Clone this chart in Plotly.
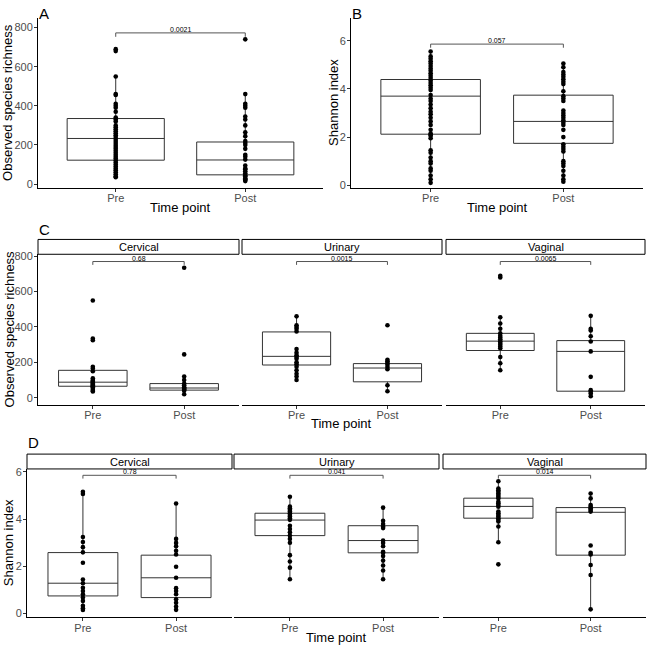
import plotly.graph_objects as go

# ---------------- data ----------------
groups = ["Pre", "Post"]

# Panel A: observed species richness (all sites)
A_pre = [690, 680, 550, 460, 455, 410, 400, 390, 370, 340, 330, 320, 300, 290, 280, 270, 260, 250,
         240, 230, 220, 210, 200, 190, 180, 170, 160, 150, 140, 130, 120, 110, 100, 90, 80, 70, 60,
         50, 40, 35]
A_post = [740, 460, 410, 400, 390, 345, 330, 300, 265, 245, 220, 210, 200, 180, 150, 140, 125, 95,
          80, 75, 65, 55, 45, 40, 30, 25, 20, 15]
A_box = dict(q1=[122, 47], median=[233, 123], q3=[335, 215], lo=[35, 15], hi=[550, 460])

# Panel B: Shannon index (all sites)
B_pre = [5.55, 5.35, 5.25, 5.15, 5.05, 4.95, 4.85, 4.75, 4.65, 4.55, 4.45, 4.35, 4.25, 4.15, 4.05,
         3.95, 3.75, 3.6, 3.5, 3.35, 3.2, 3.05, 2.95, 2.8, 2.65, 2.5, 2.3, 2.15, 2.1, 2.05, 1.95,
         1.45, 1.35, 1.15, 1.0, 0.9, 0.7, 0.6, 0.4, 0.25, 0.1]
B_post = [5.05, 4.9, 4.7, 4.6, 4.5, 4.4, 4.3, 4.2, 3.9, 3.7, 3.6, 3.5, 3.1, 3.0, 2.9, 2.8, 2.7, 2.6,
          2.5, 2.3, 2.0, 1.7, 1.6, 1.5, 1.4, 1.0, 0.9, 0.8, 0.6, 0.4, 0.25, 0.15]
B_box = dict(q1=[2.12, 1.74], median=[3.70, 2.65], q3=[4.39, 3.74], lo=[0.1, 0.15], hi=[5.55, 5.05])

sites = ["Cervical", "Urinary", "Vaginal"]

# Panel C: observed species richness by site
C_pre = {
    "Cervical": [550, 335, 325, 175, 165, 150, 110, 100, 95, 90, 85, 80, 75, 70, 65, 60, 50, 40, 35],
    "Urinary": [460, 410, 400, 390, 375, 275, 255, 240, 230, 220, 200, 190, 175, 155, 135, 120, 100],
    "Vaginal": [690, 680, 455, 420, 390, 365, 350, 340, 330, 320, 310, 300, 290, 280, 230, 195, 155],
}
C_post = {
    "Cervical": [735, 245, 120, 100, 80, 70, 60, 55, 50, 45, 40, 20],
    "Urinary": [410, 215, 206, 196, 187, 174, 161, 71, 37],
    "Vaginal": [463, 390, 380, 348, 318, 262, 118, 43, 34, 24, 9],
}
C_box = {
    "Cervical": dict(q1=[65, 43], median=[88, 55], q3=[155, 80], lo=[35, 20], hi=[175, 120]),
    "Urinary": dict(q1=[185, 90], median=[234, 168], q3=[372, 193], lo=[100, 37], hi=[460, 215]),
    "Vaginal": dict(q1=[267, 37], median=[320, 262], q3=[364, 323], lo=[155, 9], hi=[455, 463]),
}

# Panel D: Shannon index by site
D_pre = {
    "Cervical": [5.16, 5.07, 3.24, 3.03, 2.81, 2.59, 2.15, 1.44, 1.28, 1.09, 0.95, 0.81, 0.67, 0.53,
                 0.32, 0.22, 0.14],
    "Urinary": [4.95, 4.53, 4.46, 4.39, 4.32, 4.25, 4.18, 4.11, 4.04, 3.97, 3.72, 3.58, 3.44, 3.30,
                3.16, 3.0, 2.47, 2.2, 1.94, 1.45],
    "Vaginal": [5.61, 5.30, 5.23, 5.16, 5.09, 5.02, 4.95, 4.88, 4.74, 4.67, 4.60, 4.53, 4.32, 4.25,
                4.18, 4.11, 4.04, 3.97, 3.90, 3.69, 3.02, 2.08],
}
D_post = {
    "Cervical": [4.66, 3.16, 2.99, 2.85, 2.66, 2.50, 1.98, 1.51, 1.07, 0.95, 0.81, 0.60, 0.45, 0.29, 0.15],
    "Urinary": [4.49, 3.93, 3.79, 3.69, 3.62, 3.09, 2.99, 2.85, 2.61, 2.57, 2.43, 2.24, 2.03, 1.82, 1.45],
    "Vaginal": [5.09, 4.88, 4.60, 4.53, 4.46, 4.39, 4.32, 2.88, 2.57, 2.50, 2.05, 1.63, 0.17],
}
D_box = {
    "Cervical": dict(q1=[0.74, 0.67], median=[1.28, 1.51], q3=[2.58, 2.47], lo=[0.14, 0.15], hi=[5.1, 4.66]),
    "Urinary": dict(q1=[3.30, 2.57], median=[3.96, 3.09], q3=[4.25, 3.72], lo=[1.45, 1.45], hi=[4.95, 4.49]),
    "Vaginal": dict(q1=[4.04, 2.47], median=[4.54, 4.29], q3=[4.89, 4.49], lo=[3.02, 0.17], hi=[5.61, 5.09]),
}

# significance brackets: (y position, tip length, p-value label)
A_sig = (773, 20, "0.0021")
B_sig = (5.86, 0.15, "0.057")
C_sig = {"Cervical": (770, 19, "0.68"), "Urinary": (770, 19, "0.0015"), "Vaginal": (770, 19, "0.0065")}
D_sig = {"Cervical": (5.86, 0.14, "0.78"), "Urinary": (5.86, 0.14, "0.041"), "Vaginal": (5.86, 0.14, "0.014")}

# ---------------- layout helpers ----------------
W = H = 650
FONT = "Liberation Sans, Arial, sans-serif"


def px_x(p):
    return p / W


def px_y(p):
    return 1 - p / H


fig = go.Figure()
annotations = []
shapes = []


def add_panel(idx, pre, post, box, sig):
    xa = "x" if idx == 1 else f"x{idx}"
    ya = "y" if idx == 1 else f"y{idx}"
    fig.add_trace(go.Box(
        x=groups, q1=box["q1"], median=box["median"], q3=box["q3"],
        lowerfence=box["lo"], upperfence=box["hi"],
        boxpoints=False, width=0.75, whiskerwidth=0,
        fillcolor="white", line=dict(color="#333333", width=1),
        xaxis=xa, yaxis=ya, showlegend=False, hoverinfo="skip"))
    fig.add_trace(go.Scatter(
        x=[groups[0]] * len(pre) + [groups[1]] * len(post), y=pre + post,
        mode="markers", marker=dict(color="black", size=4.6),
        xaxis=xa, yaxis=ya, showlegend=False, hoverinfo="skip"))
    yb, tip, lab = sig
    fig.add_trace(go.Scatter(
        x=[groups[0], groups[0], groups[1], groups[1]], y=[yb - tip, yb, yb, yb - tip],
        mode="lines", line=dict(color="#555555", width=1),
        xaxis=xa, yaxis=ya, showlegend=False, hoverinfo="skip"))
    annotations.append(dict(x=0.5, y=yb, xref=xa, yref=ya, text=lab, showarrow=False,
                            xanchor="center", yanchor="bottom", yshift=-2,
                            font=dict(family=FONT, size=7, color="black")))


# panel geometry (pixels)
panels = {
    1: dict(x=(38, 323), y=(14, 186), yr=(-20.3, 850), ticks=[0, 200, 400, 600, 800], showy=True),
    2: dict(x=(351, 643), y=(14, 186), yr=(-0.114, 6.95), ticks=[0, 2, 4, 6], showy=True),
    3: dict(x=(38, 239), y=(253, 405), yr=(-39, 811), ticks=[0, 200, 400, 600, 800], showy=True),
    4: dict(x=(242, 442), y=(253, 405), yr=(-39, 811), ticks=[0, 200, 400, 600, 800], showy=False),
    5: dict(x=(446, 645), y=(253, 405), yr=(-39, 811), ticks=[0, 200, 400, 600, 800], showy=False),
    6: dict(x=(27, 232), y=(470, 620), yr=(-0.168, 6.13), ticks=[0, 2, 4, 6], showy=True),
    7: dict(x=(234, 439), y=(470, 620), yr=(-0.168, 6.13), ticks=[0, 2, 4, 6], showy=False),
    8: dict(x=(443, 646), y=(470, 620), yr=(-0.168, 6.13), ticks=[0, 2, 4, 6], showy=False),
}

add_panel(1, A_pre, A_post, A_box, A_sig)
add_panel(2, B_pre, B_post, B_box, B_sig)
for i, s in enumerate(sites):
    add_panel(3 + i, C_pre[s], C_post[s], C_box[s], C_sig[s])
for i, s in enumerate(sites):
    add_panel(6 + i, D_pre[s], D_post[s], D_box[s], D_sig[s])

layout_axes = {}
for idx, p in panels.items():
    xk = "xaxis" if idx == 1 else f"xaxis{idx}"
    yk = "yaxis" if idx == 1 else f"yaxis{idx}"
    ya = "y" if idx == 1 else f"y{idx}"
    xa = "x" if idx == 1 else f"x{idx}"
    layout_axes[xk] = dict(
        domain=[px_x(p["x"][0]), px_x(p["x"][1])], anchor=ya,
        type="category", categoryorder="array", categoryarray=groups, range=[-0.6, 1.6],
        showline=True, linecolor="black", linewidth=1, ticks="outside", ticklen=3,
        ticklabelstandoff=-3,
        tickcolor="#333333", tickwidth=1, tickfont=dict(family=FONT, size=11, color="#4d4d4d"),
        showgrid=False, zeroline=False, fixedrange=True)
    layout_axes[yk] = dict(
        domain=[px_y(p["y"][1]), px_y(p["y"][0])], anchor=xa, range=list(p["yr"]),
        tickvals=p["ticks"], showline=p["showy"], linecolor="black", linewidth=1,
        ticks="outside" if p["showy"] else "", ticklen=3, tickcolor="#333333", tickwidth=1,
        ticklabelstandoff=-1,
        showticklabels=p["showy"], tickfont=dict(family=FONT, size=11, color="#4d4d4d"),
        showgrid=False, zeroline=False, fixedrange=True)

# facet strips
strip_rows = [((238, 253), [3, 4, 5]), ((455, 470), [6, 7, 8])]
for (sy0, sy1), idxs in strip_rows:
    for s, idx in zip(sites, idxs):
        x0, x1 = panels[idx]["x"]
        shapes.append(dict(type="rect", xref="paper", yref="paper",
                           x0=px_x(x0), x1=px_x(x1), y0=px_y(sy1), y1=px_y(sy0),
                           line=dict(color="black", width=1), fillcolor="white", layer="below"))
        annotations.append(dict(x=px_x((x0 + x1) / 2), y=px_y((sy0 + sy1) / 2), xref="paper", yref="paper",
                                text=s, showarrow=False, xanchor="center", yanchor="middle",
                                font=dict(family=FONT, size=11, color="black")))


# axis titles
def title(text, x, y, angle=0):
    annotations.append(dict(x=px_x(x), y=px_y(y), xref="paper", yref="paper", text=text,
                            showarrow=False, textangle=angle, xanchor="center", yanchor="middle",
                            font=dict(family=FONT, size=13, color="black")))


title("Time point", 180, 206)
title("Time point", 497, 206)
title("Time point", 341, 424)
title("Time point", 336, 640)
title("Observed species richness", 8, 100, -90)
title("Shannon index", 334, 100, -90)
title("Observed species richness", 9, 329, -90)
title("Shannon index", 8, 545, -90)

# panel tags
for tag, x, y in [("A", 37, 10), ("B", 350, 10), ("C", 37, 228), ("D", 26, 443)]:
    annotations.append(dict(x=px_x(x), y=px_y(y), xref="paper", yref="paper", text=tag,
                            showarrow=False, xanchor="left", yanchor="middle",
                            font=dict(family=FONT, size=15, color="black")))

fig.update_layout(
    width=W, height=H, margin=dict(l=0, r=0, t=0, b=0),
    paper_bgcolor="white", plot_bgcolor="white",
    font=dict(family=FONT), showlegend=False,
    annotations=annotations, shapes=shapes, **layout_axes)

fig.write_html("out.html")
